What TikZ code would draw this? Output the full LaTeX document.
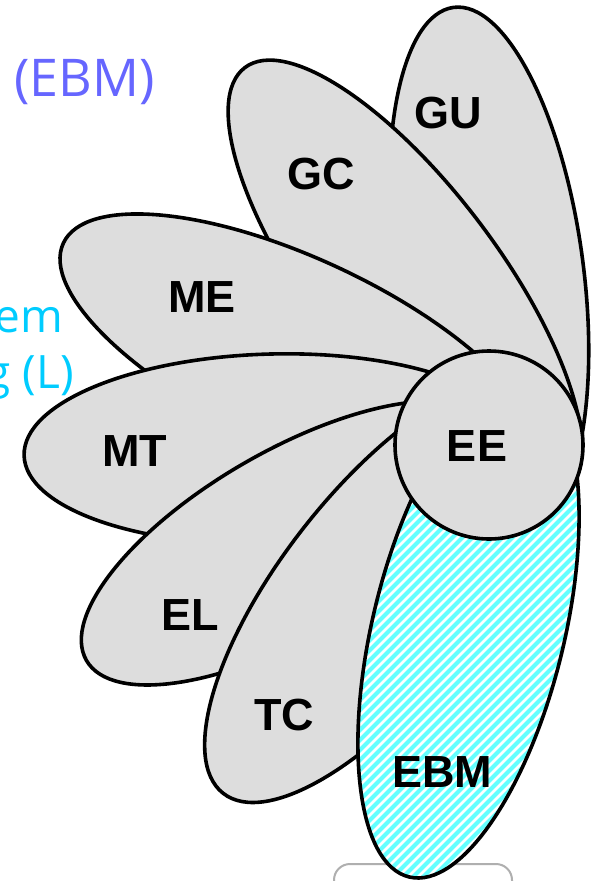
\documentclass[tikz,border=0pt]{standalone}
\usepackage{fontspec}
\setmainfont{Liberation Sans}
\newfontfamily\osans{Open Sans}
\usetikzlibrary{shapes.geometric}
\definecolor{petal}{RGB}{221,221,221}
\definecolor{stripecol}{RGB}{100,255,255}
\definecolor{ebmblue}{RGB}{102,102,255}
\definecolor{lcyan}{RGB}{0,204,255}
\definecolor{boxgray}{RGB}{175,175,175}
\begin{document}
\begin{tikzpicture}[x=1pt,y=-1pt,
  petalshape/.style={ellipse, draw=black, line width=3.6pt, fill=petal, inner sep=0pt},
  lbl/.style={font=\fontsize{45}{50}\selectfont\bfseries, text=black, inner sep=0pt},
  sidetext/.style={font=\osans\fontsize{52}{60}\selectfont, inner sep=0pt},
  cyantext/.style={font=\osans\fontsize{46}{54}\selectfont, text=lcyan, inner sep=0pt, anchor=base east},
  stripeline/.style={draw=stripecol, line width=4pt}]
\useasboundingbox (0,0) rectangle (591,881);
\clip (0,0) rectangle (591,881);

% side texts (cut off by the page edge)
\node[sidetext, text=ebmblue, anchor=base west] (t1) at (14,96) {(EBM)};
\node[cyantext] (t2) at (63,332) {em};
\node[cyantext] (t3) at (74,388) {g (L)};

% box at the bottom
\node[draw=boxgray, line width=2pt, fill=white, rounded corners=16pt, minimum width=178pt, minimum height=60pt, anchor=north west, inner sep=0pt] (box) at (333,863) {};

% petals, back to front
\node[petalshape, minimum width=528pt, minimum height=188pt, rotate=-82.25] (gu) at (489,269) {};
\node[petalshape, minimum width=532pt, minimum height=188pt, rotate=-53] (gc) at (405,280) {};
\node[petalshape, minimum width=520pt, minimum height=188pt, rotate=-25] (me) at (299,353) {};
\node[petalshape, minimum width=496pt, minimum height=190pt, rotate=1.5] (mt) at (272,449) {};
\node[petalshape, minimum width=470pt, minimum height=184pt, rotate=30] (el) at (290,543) {};
\node[petalshape, minimum width=516pt, minimum height=200pt, rotate=52] (tc) at (382,590) {};

% EBM hatched petal
\begin{scope}
  \clip[rotate around={76.5:(468.5,630)}] (468.5,630) ellipse [x radius=254, y radius=96];
  \fill[white] (300,350) rectangle (620,900);
  \foreach \k in {0,...,80} {
    \draw[stripeline] (\k*10-190,900) -- ++(600,-600);
  }
\end{scope}
\node[ellipse, draw=black, line width=3.6pt, inner sep=0pt, minimum width=508pt, minimum height=192pt, rotate=76.5] (ebm) at (468.5,630) {};

% centre circle
\node[circle, draw=black, line width=3.6pt, fill=petal, minimum size=188pt, inner sep=0pt] (ee) at (489,445) {};

% labels
\node[lbl] (gul) at (448,113) {GU};
\node[lbl] (gcl) at (321,174) {GC};
\node[lbl] (mel) at (202,297) {ME};
\node[lbl] (mtl) at (135,451) {MT};
\node[lbl] (ell) at (190,615) {EL};
\node[lbl] (tcl) at (284,715) {TC};
\node[lbl] (eel) at (477,446) {EE};
\node[lbl] (ebml) at (442,772) {EBM};
\end{tikzpicture}
\end{document}
